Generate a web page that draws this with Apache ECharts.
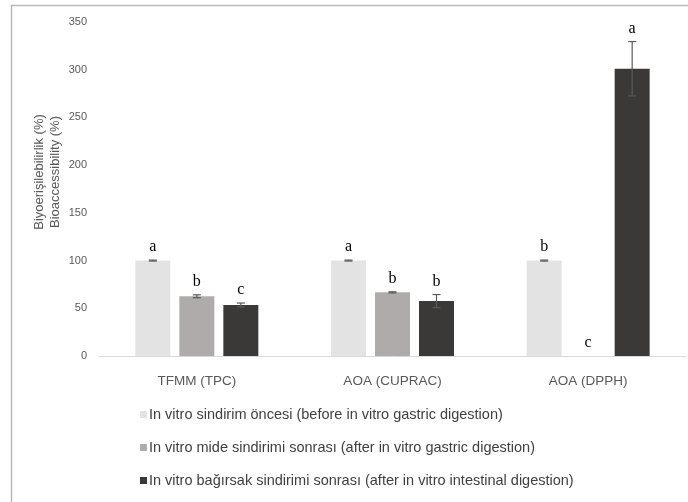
<!DOCTYPE html>
<html>
<head>
<meta charset="utf-8">
<script src="https://cdn.jsdelivr.net/npm/echarts@6/dist/echarts.min.js"></script>
<style>
  html, body { margin: 0; padding: 0; background: #fff; }
  #chart { width: 688px; height: 502px; }
</style>
</head>
<body>
<div id="chart"></div>
<script>
// categories and tick labels
var categories = ['TFMM (TPC)', 'AOA (CUPRAC)', 'AOA (DPPH)'];
var yTicks = [0, 50, 100, 150, 200, 250, 300, 350];

// series names (legend)
var stageNames = [
  'In vitro sindirim öncesi (before in vitro gastric digestion)',
  'In vitro mide sindirimi sonrası (after in vitro gastric digestion)',
  'In vitro bağırsak sindirimi sonrası (after in vitro intestinal digestion)'
];

// means per stage, one value per category
var beforeGastric = [100, 100, 100];
var afterGastric = [62.6, 66.7, 0];
var afterIntestinal = [53.5, 57.6, 301];

// error bar half-widths
var beforeGastricErr = [0.5, 0.5, 0.5];
var afterGastricErr = [1.5, 0.6, 0];
var afterIntestinalErr = [2, 6.8, 28.5];

// significance letters
var beforeGastricLetters = ['a', 'a', 'b'];
var afterGastricLetters = ['b', 'b', 'c'];
var afterIntestinalLetters = ['c', 'b', 'a'];

var colors = ['#e3e3e3', '#afabab', '#3b3838'];
var BAR_W = 35;
var STEP = 44; // bar width + gap, px

var means = [beforeGastric, afterGastric, afterIntestinal];
var errs = [beforeGastricErr, afterGastricErr, afterIntestinalErr];
var letters = [beforeGastricLetters, afterGastricLetters, afterIntestinalLetters];

function errSeries(k) {
  var data = categories.map(function (c, i) {
    return [i, means[k][i], errs[k][i], letters[k][i]];
  });
  return {
    type: 'custom',
    name: 'err' + k,
    z: 5,
    data: data,
    encode: { x: 0, y: 1 },
    renderItem: function (params, api) {
      var ci = api.value(0), m = api.value(1), e = api.value(2);
      var off = (k - 1) * STEP;
      var top = api.coord([ci, m + e]);
      var bot = api.coord([ci, m - e]);
      var x = top[0] + off;
      var children = [];
      if (e > 0) {
        var cap = 4;
        var ls = { stroke: '#595959', lineWidth: 1.2 };
        children.push({ type: 'line', shape: { x1: x, y1: top[1], x2: x, y2: bot[1] }, style: ls });
        children.push({ type: 'line', shape: { x1: x - cap, y1: top[1], x2: x + cap, y2: top[1] }, style: ls });
        children.push({ type: 'line', shape: { x1: x - cap, y1: bot[1], x2: x + cap, y2: bot[1] }, style: ls });
      }
      children.push({
        type: 'text',
        x: x, y: top[1] - 5,
        style: {
          text: letters[k][params.dataIndex],
          fill: '#000',
          font: '16px "Liberation Serif", "DejaVu Serif", serif',
          align: 'center',
          verticalAlign: 'bottom'
        }
      });
      return { type: 'group', children: children };
    }
  };
}

var barSeries = stageNames.map(function (n, k) {
  return {
    type: 'bar',
    name: n,
    data: means[k],
    barWidth: BAR_W,
    barGap: ((STEP - BAR_W) / BAR_W * 100) + '%',
    itemStyle: { color: colors[k] },
    emphasis: { disabled: true }
  };
});

var chart = echarts.init(document.getElementById('chart'));
chart.setOption({
  animation: false,
  color: colors,
  grid: { left: 99, right: 2, top: 22, bottom: 146 },
  graphic: [
    {
      type: 'rect',
      shape: { x: 11.5, y: 5.5, width: 700, height: 520 },
      style: { fill: 'none', stroke: '#b8b8b8', lineWidth: 1.5 },
      silent: true
    },
    {
      type: 'text',
      x: 47, y: 172,
      rotation: Math.PI / 2,
      style: {
        text: 'Biyoerişilebilirlik (%)\nBioaccessibility (%)',
        fill: '#595959',
        font: '13px "Liberation Sans", sans-serif',
        align: 'center',
        verticalAlign: 'middle',
        lineHeight: 16
      }
    }
  ],
  legend: {
    data: stageNames,
    orient: 'vertical',
    left: 135,
    top: 402,
    itemWidth: 7,
    itemHeight: 7,
    itemGap: 18,
    icon: 'rect',
    selectedMode: false,
    textStyle: { color: '#404040', fontSize: 14.5, fontFamily: '"Liberation Sans", sans-serif', padding: [0, 0, 0, -3] }
  },
  xAxis: {
    type: 'category',
    data: categories,
    axisLine: { lineStyle: { color: '#d9d9d9', width: 1 } },
    axisTick: { show: false },
    axisLabel: { color: '#595959', fontSize: 13.5, margin: 18, fontFamily: '"Liberation Sans", sans-serif' }
  },
  yAxis: {
    type: 'value',
    min: yTicks[0],
    max: yTicks[yTicks.length - 1],
    interval: yTicks[1] - yTicks[0],
    axisLine: { show: false },
    axisTick: { show: false },
    splitLine: { show: false },
    axisLabel: { color: '#595959', fontSize: 11, margin: 12, fontFamily: '"Liberation Sans", sans-serif' }
  },
  series: barSeries.concat([errSeries(0), errSeries(1), errSeries(2)])
});
</script>
</body>
</html>
